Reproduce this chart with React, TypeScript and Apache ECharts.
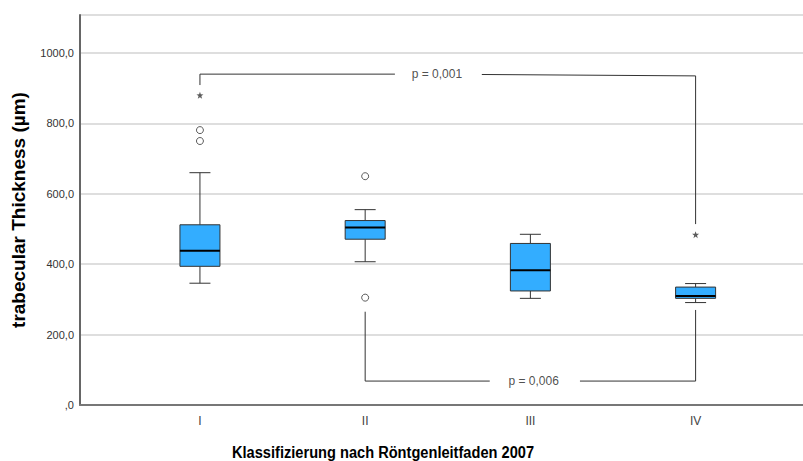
import React, { useEffect, useRef } from "react";
import * as echarts from "echarts";

const categories = ["I", "II", "III", "IV"];
const whiskerLow = [346, 407, 303, 291];
const q1 = [394, 471, 324, 303];
const median = [438, 504, 383, 310];
const q3 = [512, 524, 459, 335];
const whiskerHigh = [660, 555, 485, 345];
// outliers: [groupIndex(1-based), value]
const circleOutliers: [number, number][] = [
  [1, 781],
  [1, 750],
  [2, 650],
  [2, 305],
];
const starOutliers: [number, number][] = [
  [1, 880],
  [4, 484],
];
const yTicks = [0, 200, 400, 600, 800, 1000];
// significance brackets (x in group units, y in µm)
const bracket1Left: [number, number][] = [[1, 909], [1, 940], [2.18, 940]];
const bracket1Right: [number, number][] = [[2.706, 939], [4, 935], [4, 514]];
const bracket2Left: [number, number][] = [[2, 265], [2, 68], [2.754, 68]];
const bracket2Right: [number, number][] = [[3.3, 68], [4, 68], [4, 270]];
const pLabels: { pos: [number, number]; text: string }[] = [
  { pos: [2.434, 940], text: "p = 0,001" },
  { pos: [3.02, 68], text: "p = 0,006" },
];

const FONT = "'Liberation Sans', Arial, sans-serif";
const STAR =
  "path://M0,-10 L2.35,-3.24 9.51,-3.09 3.8,1.24 5.88,8.09 0,4 -5.88,8.09 -3.8,1.24 -9.51,-3.09 -2.35,-3.24 Z";

export default function App() {
  const ref = useRef<HTMLDivElement>(null);
  useEffect(() => {
    document.body.style.margin = "0";
    const chart = echarts.init(ref.current!, null, { renderer: "svg" });
    const boxData = categories.map((_, i) => [
      i + 1,
      whiskerLow[i],
      q1[i],
      median[i],
      q3[i],
      whiskerHigh[i],
    ]);
    const lineStyle = { color: "#333", width: 1 };
    const bracketSeries = [bracket1Left, bracket1Right, bracket2Left, bracket2Right].map(
      (d) => ({
        type: "line",
        data: d,
        symbol: "none",
        silent: true,
        lineStyle,
        clip: false,
        z: 5,
      })
    );
    chart.setOption({
      animation: false,
      grid: { left: 80, right: 0, top: 15, bottom: 56 },
      xAxis: {
        type: "value",
        min: 0.274,
        max: 4.65,
        splitLine: { show: false },
        axisTick: { show: false },
        axisLine: { lineStyle: { color: "#777", width: 2 } },
        axisLabel: {
          customValues: [1, 2, 3, 4],
          formatter: (v: number) => categories[Math.round(v) - 1] ?? "",
          color: "#444",
          fontSize: 12,
          fontFamily: FONT,
          margin: 10,
        },
      },
      yAxis: {
        type: "value",
        min: 0,
        max: 1108,
        interval: 200,
        name: "trabecular Thickness (µm)",
        nameLocation: "middle",
        nameGap: 52,
        nameTextStyle: {
          fontSize: 19,
          fontWeight: "bold",
          color: "#000",
          fontFamily: FONT,
        },
        axisTick: { show: false },
        axisLine: { show: true, lineStyle: { color: "#666", width: 2 } },
        splitLine: { lineStyle: { color: "#d3d3d3", width: 1.5 } },
        axisLabel: {
          formatter: (v: number) => (yTicks.includes(v) ? (v === 0 ? ",0" : v + ",0") : ""),
          color: "#333",
          fontSize: 11,
          fontFamily: FONT,
          margin: 6,
          showMaxLabel: false,
        },
      },
      graphic: [
        {
          type: "text",
          x: 383,
          y: 452,
          scaleX: 0.86,
          style: {
            text: "Klassifizierung nach Röntgenleitfaden 2007",
            fontSize: 17,
            fontWeight: "bold",
            fontFamily: FONT,
            fill: "#000",
            textAlign: "center",
            textVerticalAlign: "middle",
          },
        },
      ],
      series: [
        {
          type: "custom",
          data: boxData,
          encode: { x: 0, y: [1, 2, 3, 4, 5] },
          z: 3,
          renderItem: (params: any, api: any) => {
            const x = api.value(0);
            const lo = api.coord([x, api.value(1)]);
            const b1 = api.coord([x, api.value(2)]);
            const md = api.coord([x, api.value(3)]);
            const b3 = api.coord([x, api.value(4)]);
            const hi = api.coord([x, api.value(5)]);
            const cx = lo[0];
            const half = 20;
            const cap = 10.5;
            const st = { stroke: "#333", lineWidth: 1 };
            return {
              type: "group",
              children: [
                { type: "line", shape: { x1: cx, y1: lo[1], x2: cx, y2: b1[1] }, style: st },
                { type: "line", shape: { x1: cx, y1: b3[1], x2: cx, y2: hi[1] }, style: st },
                { type: "line", shape: { x1: cx - cap, y1: lo[1], x2: cx + cap, y2: lo[1] }, style: st },
                { type: "line", shape: { x1: cx - cap, y1: hi[1], x2: cx + cap, y2: hi[1] }, style: st },
                {
                  type: "rect",
                  shape: { x: cx - half, y: b3[1], width: 2 * half, height: b1[1] - b3[1] },
                  style: { fill: "#33adff", stroke: "#333", lineWidth: 1 },
                },
                {
                  type: "line",
                  shape: { x1: cx - half, y1: md[1], x2: cx + half, y2: md[1] },
                  style: { stroke: "#000", lineWidth: 2 },
                },
              ],
            };
          },
        },
        {
          type: "scatter",
          data: circleOutliers,
          symbol: "circle",
          symbolSize: 7,
          itemStyle: { color: "#fff", borderColor: "#333", borderWidth: 1 },
          silent: true,
          z: 4,
        },
        {
          type: "scatter",
          data: starOutliers,
          symbol: STAR,
          symbolSize: 7,
          itemStyle: { color: "#333" },
          silent: true,
          z: 4,
        },
        ...bracketSeries,
        {
          type: "scatter",
          data: pLabels.map((p) => ({ value: p.pos, name: p.text })),
          symbolSize: 0,
          silent: true,
          z: 6,
          label: {
            show: true,
            position: "inside",
            formatter: (p: any) => p.name,
            color: "#222",
            fontSize: 12,
            fontFamily: FONT,
          },
        },
      ],
    });
    return () => chart.dispose();
  }, []);
  return <div ref={ref} style={{ width: 803, height: 461 }} />;
}
